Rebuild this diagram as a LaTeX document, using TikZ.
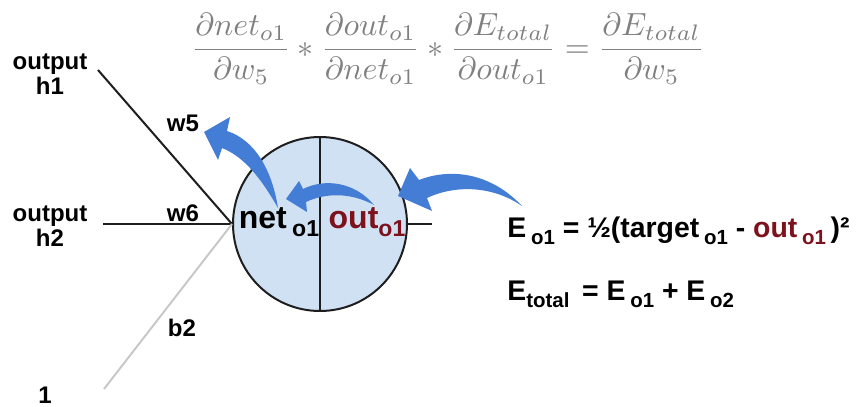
\documentclass[tikz,border=0pt]{standalone}
\usepackage{fontspec}
\usepackage{amsmath}
\newfontfamily\arialfont{Liberation Sans}
\usetikzlibrary{positioning}
\definecolor{arrblue}{RGB}{67,125,214}
\definecolor{cellblue}{RGB}{208,225,243}
\definecolor{outred}{RGB}{125,18,28}
\definecolor{mathgray}{RGB}{128,128,128}
\definecolor{biasgray}{RGB}{200,200,200}
\definecolor{wiregray}{RGB}{30,30,30}
\newcommand{\lsub}[1]{\raisebox{-0.5ex}{\scalebox{0.72}{#1}}}
\tikzstyle{lbl} = [font=\arialfont\bfseries\fontsize{12}{12.5}\selectfont, align=center, inner sep=0pt]
\tikzstyle{big} = [font=\arialfont\bfseries\fontsize{16}{18}\selectfont, inner sep=0pt]
\tikzstyle{eqn} = [font=\arialfont\bfseries\fontsize{14.2}{16}\selectfont, anchor=base west, inner sep=0pt]
\tikzstyle{wire} = [line width=1pt, draw=wiregray]
\tikzstyle{flow} = [fill=arrblue, draw=none]

\begin{document}
\begin{tikzpicture}[x=0.5pt, y=-0.5pt]
    \useasboundingbox (0,0) rectangle (857,407);

    % neuron o1
    \node[circle, draw=wiregray, fill=cellblue, line width=1pt, minimum size=87pt, inner sep=0pt] (o1) at (320,224) {};
    \draw[wire] (o1.north) -- (o1.south);
    \coordinate (outend) at (432,224);
    \draw[wire] (o1.east) -- (outend);

    % inputs
    \node[lbl] (h1) at (50,74) {output\\h1};
    \node[lbl] (h2) at (50,226) {output\\h2};
    \node[lbl] (one) at (45,395) {1};
    \coordinate (h1end) at (98,70);
    \coordinate (h2end) at (103,224);
    \coordinate (biasend) at (104,389);
    \draw[wire] (h1end) -- (o1.west);
    \draw[wire] (h2end) -- (o1.west);
    \draw[line width=1pt, biasgray] (biasend) -- (o1.west);
    \node[lbl] (w5) at (183,123) {w5};
    \node[lbl] (w6) at (183,213) {w6};
    \node[lbl] (b2) at (182,328) {b2};

    \node[big] (net) at (279,222) {net\,\lsub{o1}};
    \node[big, text=outred] (out) at (367,222) {out\lsub{o1}};

    % chain rule
    \node[text=mathgray, scale=1.6] (grad) at (448,49)
        {$\displaystyle \frac{\partial net_{o1}}{\partial w_5} * \frac{\partial out_{o1}}{\partial net_{o1}} * \frac{\partial E_{total}}{\partial out_{o1}} = \frac{\partial E_{total}}{\partial w_5}$};

    % error
    \node[eqn] (eo1) at (507,237) {E\,\lsub{o1} = ½(target\,\lsub{o1} - \textcolor{outred}{out\,\lsub{o1}}\,)²};
    \node[eqn] (etot) at (507,300) {E\lsub{total}\, = E\,\lsub{o1} + E\,\lsub{o2}};

    % backward arrows
    \fill[flow] (522,206) .. controls (490,172) and (450,168) .. (419,180) -- (410,168) -- (398,196) -- (432,211) -- (427,198) .. controls (452,186) and (490,184) .. cycle;
    \fill[flow] (374,205) .. controls (355,182) and (325,178) .. (303,189) -- (299,181) -- (286,199) -- (307,212) -- (306,202) .. controls (325,193) and (350,192) .. cycle;
    \fill[flow] (278,208) .. controls (272,170) and (255,140) .. (227,131) -- (230,117) -- (204,132) -- (218,160) -- (222,148) .. controls (245,157) and (262,180) .. cycle;
\end{tikzpicture}
\end{document}
